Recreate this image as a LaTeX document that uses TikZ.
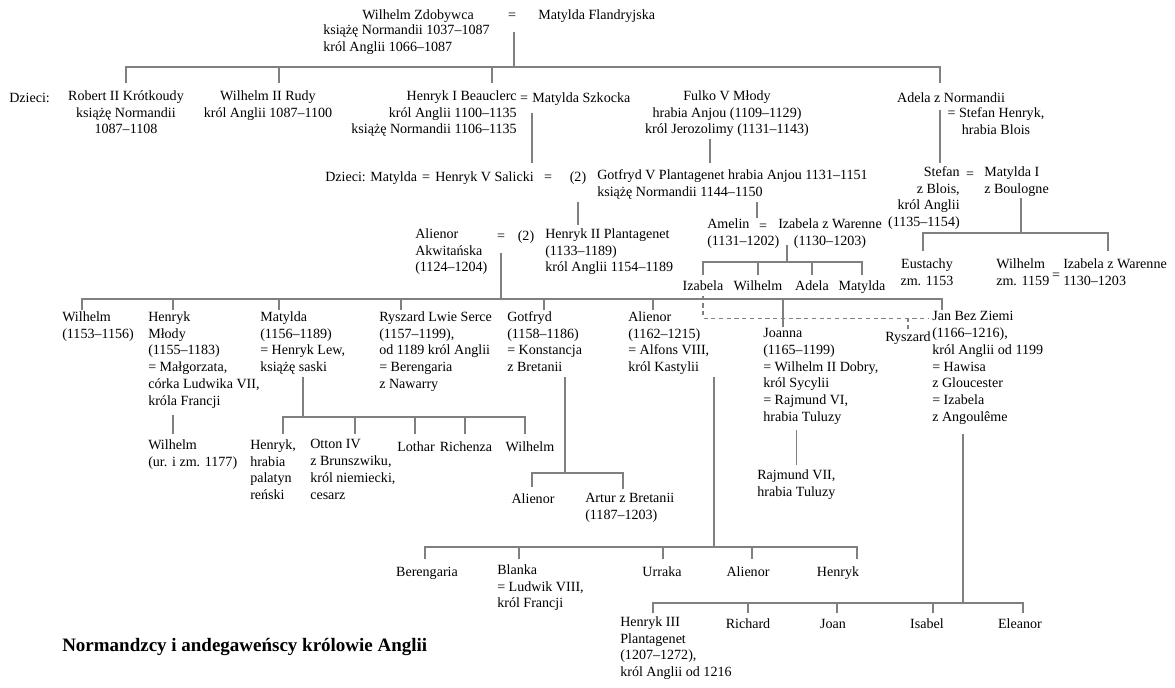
\documentclass[tikz,border=0pt]{standalone}
\usepackage{fontspec}
\setmainfont{Liberation Serif}
\usepackage{tikz}
\usetikzlibrary{calc}
\definecolor{linegray}{RGB}{128,128,128}

\begin{document}
\begin{tikzpicture}[x=0.025cm,y=-0.025cm,
      txt/.style={inner sep=0pt,font=\fontsize{10}{11.9}\selectfont,execute at begin node=\strut},
      nm/.style={txt,anchor=north,yshift=6.2pt},
      nmc/.style={nm,align=center},
      nmw/.style={txt,anchor=north west,align=left,yshift=6.2pt},
      nme/.style={txt,anchor=north east,align=right,yshift=6.2pt},
      famline/.style={draw=linegray,line width=1pt},
      liaison/.style={famline,dash pattern=on 3pt off 2.5pt}
    ]
    \useasboundingbox (0,0) rectangle (1175,687);

    % Wilhelm Zdobywca
    \node[nm] (wz) at (418,16) {Wilhelm Zdobywca};
    \node[nmw] (wzi) at (323,33) {książę Normandii 1037--1087\\król Anglii 1066--1087};
    \node[nm] (eq1) at (512,16) {=};
    \node[nmw] (mf) at (538,16) {Matylda Flandryjska};

    \node[nmw] (dz1) at (9,99) {Dzieci:};
    \node[nmc] (rob) at (126,99) {Robert II Krótkoudy\\książę Normandii\\1087--1108};
    \node[nmc] (wr) at (268,99) {Wilhelm II Rudy\\król Anglii 1087--1100};
    \node[nme] (h1) at (517,99) {Henryk I Beauclerc\\król Anglii 1100--1135\\książę Normandii 1106--1135};
    \node[nm] (eq2) at (524,99) {=};
    \node[nmw] (ms) at (532,99) {Matylda Szkocka};
    \node[nmc] (ful) at (727,99) {Fulko V Młody\\hrabia Anjou (1109--1129)\\król Jerozolimy (1131--1143)};
    \node[nm] (adela) at (951,99) {Adela z Normandii};
    \node[nmc] (adi) at (996,116) {= Stefan Henryk,\\hrabia Blois};

    \node[nmw] (dz2) at (325,178) {Dzieci:};
    \node[nmw] (mat) at (370,178) {Matylda};
    \node[nm] (eq3) at (426,178) {=};
    \node[nmw] (hv) at (435,178) {Henryk V Salicki};
    \node[nm] (eq4) at (548,178) {=};
    \node[nm] (p2) at (578,178) {(2)};
    \node[nmw] (got) at (597,178) {Gotfryd V Plantagenet hrabia Anjou 1131--1151\\książę Normandii 1144--1150};

    \node[nme] (stf) at (960,175) {Stefan\\z Blois,\\król Anglii\\(1135--1154)};
    \node[nm] (eq5) at (970,175) {=};
    \node[nmw] (mt) at (984,175) {Matylda I\\z Boulogne};
    \node[nmc] (eus) at (927,267) {Eustachy\\zm. 1153};
    \node[nmw] (wil2) at (996,267) {Wilhelm\\zm. 1159};
    \node[txt] (eq6) at (1056,276) {=};
    \node[nmw] (izw2) at (1063,267) {Izabela z Warenne\\1130--1203};

    \node[nmw] (al) at (415,237) {Alienor\\Akwitańska\\(1124--1204)};
    \node[nm] (eq7) at (501,237) {=};
    \node[nm] (p3) at (526,237) {(2)};
    \node[nmw] (h2) at (545,237) {Henryk II Plantagenet\\(1133--1189)\\król Anglii 1154--1189};

    \node[nmw] (am) at (707,227) {Amelin\\(1131--1202)};
    \node[nm] (eqA) at (763,227) {=};
    \node[nmc] (izw) at (830,227) {Izabela z Warenne\\(1130--1203)};
    \node[nm] (iza) at (703,287) {Izabela};
    \node[nm] (wlm) at (758,287) {Wilhelm};
    \node[nm] (ade) at (812,287) {Adela};
    \node[nm] (mtd) at (862,287) {Matylda};

    % Henryk II i Alienor
    \node[nmw] (wil) at (62,320) {Wilhelm\\(1153--1156)};
    \node[nmw] (hm) at (148,320) {Henryk\\Młody\\(1155--1183)\\= Małgorzata,\\córka Ludwika VII,\\króla Francji};
    \node[nmw] (mt2) at (260,320) {Matylda\\(1156--1189)\\= Henryk Lew,\\książę saski};
    \node[nmw] (rls) at (379,320) {Ryszard Lwie Serce\\(1157--1199),\\od 1189 król Anglii\\= Berengaria\\z Nawarry};
    \node[nmw] (gf) at (507,320) {Gotfryd\\(1158--1186)\\= Konstancja\\z Bretanii};
    \node[nmw] (ali) at (628,320) {Alienor\\(1162--1215)\\= Alfons VIII,\\król Kastylii};
    \node[nmw] (joa) at (763,337) {Joanna\\(1165--1199)\\= Wilhelm II Dobry,\\król Sycylii\\= Rajmund VI,\\hrabia Tuluzy};
    \node[nm] (rys) at (908,338) {Ryszard};
    \node[nmw] (jan) at (932,320) {Jan Bez Ziemi\\(1166--1216),\\król Anglii od 1199\\= Hawisa\\z Gloucester\\= Izabela\\z Angoulême};

    \node[nmw] (wu) at (148,448) {Wilhelm\\(ur. i zm. 1177)};
    \node[nmw] (hen) at (250,448) {Henryk,\\hrabia\\palatyn\\reński};
    \node[nmw] (oto) at (310,448) {Otton IV\\z Brunszwiku,\\król niemiecki,\\cesarz};
    \node[nm] (lot) at (416,448) {Lothar};
    \node[nm] (ric) at (466,448) {Richenza};
    \node[nm] (wlh) at (530,448) {Wilhelm};
    \node[nm] (gal) at (533,500) {Alienor};
    \node[nmw] (art) at (585,502) {Artur z Bretanii\\(1187--1203)};
    \node[nmw] (rv) at (757,478) {Rajmund VII,\\hrabia Tuluzy};

    \node[nm] (ber) at (427,573) {Berengaria};
    \node[nmw] (bla) at (497,573) {Blanka\\= Ludwik VIII,\\król Francji};
    \node[nm] (urr) at (662,573) {Urraka};
    \node[nm] (ali3) at (748,573) {Alienor};
    \node[nm] (hen3) at (838,573) {Henryk};

    \node[nmw] (h3) at (620,625) {Henryk III\\Plantagenet\\(1207--1272),\\król Anglii od 1216};
    \node[nm] (ric2) at (748,625) {Richard};
    \node[nm] (joan) at (833,625) {Joan};
    \node[nm] (isa) at (927,625) {Isabel};
    \node[nm] (ele) at (1020,625) {Eleanor};

    \node[anchor=west,inner sep=0pt,font=\fontsize{13.5}{15}\selectfont\bfseries] (title) at (62,647) {Normandzcy i andegaweńscy królowie Anglii};

    % junctions on the bars
    \coordinate (j1) at (514,67);
    \coordinate (j2) at (501,299);
    \coordinate (j3) at (787,262);
    \coordinate (j4) at (1021,233);
    \coordinate (j5) at (303,417);
    \coordinate (j6) at (565,473);
    \coordinate (j7) at (714,547);
    \coordinate (j8) at (963,603);

    \draw[famline,shorten >=5.5pt] (j1) -- (j1 |- eq1.south);
    \draw[famline,shorten >=5pt] (j2) -- (j2 |- eq7.south);
    \draw[famline,shorten >=-3.5pt] (j3) -- (j3 |- am.south);
    \draw[famline] (j4) -- (j4 |- mt.south);
    \draw[famline] (j5) -- (j5 |- mt2.south);
    \draw[famline] (j6) -- (j6 |- gf.south);
    \draw[famline] (j7) -- (j7 |- ali.south);
    \draw[famline,shorten >=5pt] (j8) -- (j8 |- jan.south);

    \foreach \c/\a/\dx in {rob/north/0,wr/north/11,h1/north east/-25,adela/north/-11}
      \draw[famline,shorten <=5pt] ($(\c.\a)+(\dx,0)$) |- (j1);
    \foreach \c/\a/\dx in {wil/north west/20,hm/north west/25,mt2/north west/19,rls/north west/22,gf/north west/37,ali/north west/25,joa/north west/20,jan/north west/10}
      \draw[famline,shorten <=1pt] ($(\c.\a)+(\dx,0)$) |- (j2);
    \foreach \c in {iza,wlm,ade,mtd}
      \draw[famline,shorten <=2pt] (\c.north) |- (j3);
    \foreach \c/\a/\dx in {eus/north/-4,izw2/north west/45}
      \draw[famline,shorten <=5.5pt] ($(\c.\a)+(\dx,0)$) |- (j4);
    \foreach \c/\a/\dx in {hen/north west/33,oto/north west/45,lot/north/-1,ric/north/-1,wlh/north/-5}
      \draw[famline,shorten <=4pt] ($(\c.\a)+(\dx,0)$) |- (j5);
    \foreach \c/\a/\dx in {gal/north/-1,art/north west/38}
      \draw[famline,shorten <=3pt] ($(\c.\a)+(\dx,0)$) |- (j6);
    \foreach \c/\a/\dx in {ber/north/-2,bla/north west/22,urr/north/1,ali3/north/4,hen3/north/19}
      \draw[famline,shorten <=4pt] ($(\c.\a)+(\dx,0)$) |- (j7);
    \foreach \c/\a/\dx in {h3/north west/33,ric2/north/0,joan/north/4,isa/north/6,ele/north/3}
      \draw[famline,shorten <=2pt] ($(\c.\a)+(\dx,0)$) |- (j8);

    % single lines
    \coordinate (k1) at ($(ms.south west)+(0,0)$);
    \draw[famline,shorten <=3.5pt,shorten >=4.5pt] (k1) -- (k1 |- hv.north);
    \coordinate (k2) at ($(ful.south)+(-17,0)$);
    \draw[famline,shorten >=4.3pt] (k2) -- (k2 |- got.north);
    \coordinate (k3) at ($(adela.south)+(-11,0)$);
    \draw[famline,shorten <=2pt,shorten >=2.3pt] (k3) -- (k3 |- stf.north);
    \draw[famline,shorten >=2.5pt] (p2.south |- got.south) -- (p2.south |- h2.north);
    \coordinate (k4) at ($(eqA.north)+(-6,0)$);
    \draw[famline] (k4 |- got.south) -- (k4);
    \draw[famline,shorten <=2pt,shorten >=3pt] (rv.north |- joa.south) -- (rv.north);
    \coordinate (k5) at ($(wu.north west)+(25,0)$);
    \draw[famline,shorten <=3.5pt,shorten >=4pt] (k5 |- hm.south) -- (k5);

    \coordinate (dsh) at ($(jan.north west)+(-4,7)$);
    \draw[liaison] (iza.south) |- (dsh);
    \draw[liaison] (rys.north) -- (rys.north |- dsh);
  \end{tikzpicture}
\end{document}
